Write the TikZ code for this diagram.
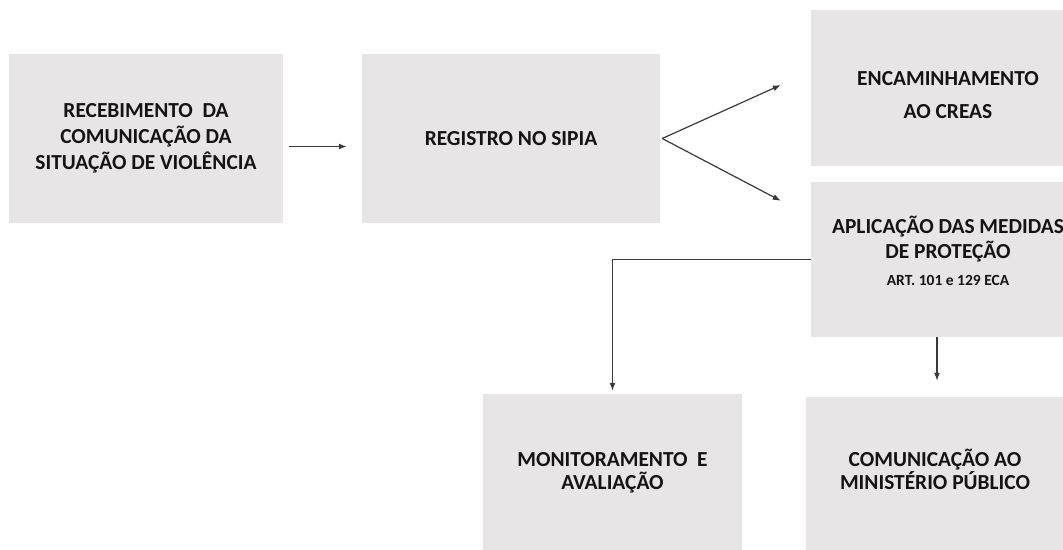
\documentclass[tikz,border=0pt]{standalone}
\usepackage{fontspec}
\setmainfont{Carlito}
\usetikzlibrary{arrows.meta,calc}

\definecolor{boxgray}{HTML}{E7E5E6}
\definecolor{inkgray}{HTML}{3A3A3A}

\tikzset{
  box/.style={rectangle, fill=boxgray, draw=none, inner sep=0pt, align=center,
              text=black!92, font=\bfseries\fontsize{21.4}{26}\selectfont},
  link/.style={draw=inkgray, line width=1.2pt, ->},
}

\begin{document}
\begin{tikzpicture}[x=1pt, y=1pt, >={Latex[length=8pt,width=6pt]}]
\useasboundingbox (0,0) rectangle (1063,549);
\clip (0,0) rectangle (1063,549);

% caixas
\node[box, minimum width=274, minimum height=169] (recebe) at (146,410.5)
  {RECEBIMENTO\ \ DA\\COMUNICAÇÃO DA\\SITUAÇÃO DE VIOLÊNCIA};
\node[box, minimum width=298, minimum height=169] (sipia) at (511,410.5)
  {REGISTRO NO SIPIA};
\node[box, minimum width=274, minimum height=156,
      font=\bfseries\fontsize{21.4}{33}\selectfont] (creas) at (948,461)
  {\rule{0pt}{29pt}ENCAMINHAMENTO\\AO CREAS};
\node[box, minimum width=274, minimum height=155,
      font=\bfseries\fontsize{21.4}{24.5}\selectfont] (medidas) at (948,289.5)
  {APLICAÇÃO DAS MEDIDAS\\DE PROTEÇÃO\\[3pt]
   {\fontsize{15.5}{18}\selectfont ART. 101 e 129 ECA\rule[-17pt]{0pt}{17pt}}};
\node[box, minimum width=259, minimum height=158,
      font=\bfseries\fontsize{21.4}{23.5}\selectfont] (monitor) at (612.5,76)
  {MONITORAMENTO\ \ E\\AVALIAÇÃO};
\node[box, minimum width=258, minimum height=155,
      font=\bfseries\fontsize{21.4}{21}\selectfont] (mp) at (935,74.5)
  {COMUNICAÇÃO AO\\MINISTÉRIO PÚBLICO\rule[-10pt]{0pt}{10pt}};

% setas
\draw[link] ([shift={(6,-8)}]recebe.east) -- ([shift={(-15,-8)}]sipia.west);
\draw[link] ([xshift=2]sipia.east) -- ([shift={(-30,3)}]creas.west);
\draw[link] ([xshift=2]sipia.east) -- ([shift={(-30,-19)}]medidas.north west);
\draw[link] (medidas.west) -| ([yshift=3]monitor.north);
\draw[link] ([xshift=-11]medidas.south) -- ($(mp.north)+(2,16)$);
\end{tikzpicture}
\end{document}
